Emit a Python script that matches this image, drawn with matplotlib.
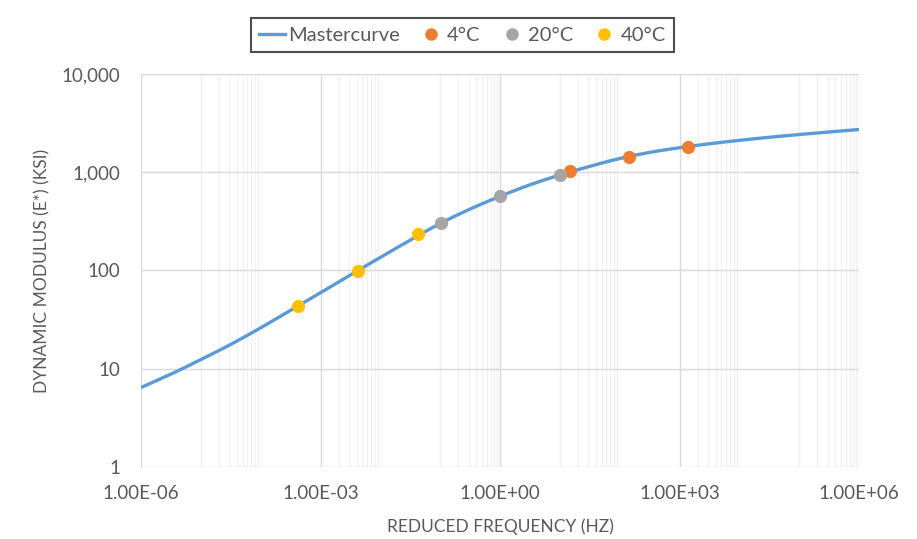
import numpy as np
import matplotlib.pyplot as plt
from matplotlib.ticker import FuncFormatter, FixedLocator, NullFormatter
from matplotlib.lines import Line2D

# mastercurve (reduced frequency in Hz, |E*| in ksi)
curve_freq = [1e-6, 10**-5.5, 1e-5, 10**-4.5, 1e-4, 10**-3.5, 1e-3, 10**-2.5, 1e-2,
              10**-1.5, 1e-1, 10**-0.5, 1, 10**0.5, 10, 10**1.5, 100, 10**2.5,
              1e3, 10**3.5, 1e4, 10**4.5, 1e5, 10**5.5, 1e6]
curve_mod = [6.44, 8.81, 12.4, 17.7, 26.1, 39.4, 59.4, 90.2, 136,
             204, 301, 422, 569, 745, 938, 1148, 1380, 1592,
             1778, 1950, 2113, 2270, 2421, 2570, 2723]

# measured points by temperature
freq_4c = [14.5, 142, 1410]
mod_4c = [1030, 1439, 1807]
freq_20c = [0.102, 1.0, 10.0]
mod_20c = [303, 569, 937]
freq_40c = [4.2e-4, 4.25e-3, 4.27e-2]
mod_40c = [43.6, 98.9, 233]

x_major = [1e-6, 1e-3, 1, 1e3, 1e6]
y_major = [1, 10, 100, 1000, 10000]

text_col = "#595959"
plt.rcParams['font.family'] = ['Lato', 'DejaVu Sans']


def smooth_path(xs, ys, steps=12):
    """Catmull-Rom through the points in log-log space (like a smoothed Excel line)."""
    lx = np.log10(xs)
    ly = np.log10(ys)
    px = np.concatenate([[2 * lx[0] - lx[1]], lx, [2 * lx[-1] - lx[-2]]])
    py = np.concatenate([[2 * ly[0] - ly[1]], ly, [2 * ly[-1] - ly[-2]]])
    out_x, out_y = [], []
    t = np.linspace(0, 1, steps, endpoint=False)
    for i in range(1, len(px) - 2):
        for p, out in ((px, out_x), (py, out_y)):
            p0, p1, p2, p3 = p[i - 1], p[i], p[i + 1], p[i + 2]
            out.extend(0.5 * ((2 * p1) + (-p0 + p2) * t
                              + (2 * p0 - 5 * p1 + 4 * p2 - p3) * t ** 2
                              + (-p0 + 3 * p1 - 3 * p2 + p3) * t ** 3))
    out_x.append(lx[-1])
    out_y.append(ly[-1])
    return 10 ** np.array(out_x), 10 ** np.array(out_y)


fig = plt.figure(figsize=(9.17, 5.39), dpi=100)
ax = fig.add_axes([0.1538, 0.1336, 0.783, 0.7291])

sx, sy = smooth_path(curve_freq, curve_mod)
ax.plot(sx, sy, color="#5B9BD5", lw=2.4, zorder=3, solid_capstyle="butt")
ms = 9.5
ax.plot(freq_4c, mod_4c, "o", color="#ED7D31", ms=ms, mec="none", zorder=4)
ax.plot(freq_20c, mod_20c, "o", color="#A5A5A5", ms=ms, mec="none", zorder=4)
ax.plot(freq_40c, mod_40c, "o", color="#FFC000", ms=ms, mec="none", zorder=4)

ax.set_xscale("log")
ax.set_yscale("log")
ax.set_xlim(1e-6, 1e6)
ax.set_ylim(1, 10000)

# minor gridlines as they show in the picture (odd decades only)
minor = []
for n in [-5, -3, -1, 1, 3, 5]:
    for k in range(1, 10):
        v = k * 10.0 ** n
        if v not in x_major:
            minor.append(v)
ax.xaxis.set_major_locator(FixedLocator(x_major))
ax.xaxis.set_minor_locator(FixedLocator(minor))
ax.xaxis.set_minor_formatter(NullFormatter())
ax.yaxis.set_major_locator(FixedLocator(y_major))
ax.yaxis.set_minor_locator(FixedLocator([]))
ax.yaxis.set_minor_formatter(NullFormatter())

ax.xaxis.set_major_formatter(FuncFormatter(lambda v, p: f"{v:.2E}"))
ax.yaxis.set_major_formatter(FuncFormatter(lambda v, p: f"{v:,.0f}"))

ax.grid(which="major", color="#D9D9D9", lw=1.0, zorder=0)
ax.grid(which="minor", axis="x", color="#F0F0F0", lw=1.0, zorder=0)
for s in ax.spines.values():
    s.set_visible(False)
ax.tick_params(which="both", length=0, labelsize=13.5, colors=text_col)
ax.tick_params(axis="x", pad=13)
ax.tick_params(axis="y", pad=15)

ax.set_xlabel("REDUCED FREQUENCY (HZ)", fontsize=12.5, color=text_col, labelpad=12)
ax.set_ylabel("DYNAMIC MODULUS (E*) (KSI)", fontsize=12.5, color=text_col, labelpad=8)

handles = [
    Line2D([], [], color="#5B9BD5", lw=2.4),
    Line2D([], [], ls="none", marker="o", color="#ED7D31", ms=9, mec="none"),
    Line2D([], [], ls="none", marker="o", color="#A5A5A5", ms=9, mec="none"),
    Line2D([], [], ls="none", marker="o", color="#FFC000", ms=9, mec="none"),
]
labels = ["Mastercurve", "4°C", "20°C", "40°C"]
leg = fig.legend(handles, labels, loc="center", bbox_to_anchor=(0.504, 0.935),
                 ncol=4, frameon=True, fancybox=False, fontsize=14.5,
                 handlelength=1.3, handletextpad=0.15, columnspacing=0.9,
                 borderpad=0.4)
leg.get_frame().set_edgecolor("#222222")
leg.get_frame().set_linewidth(1.5)
for t in leg.get_texts():
    t.set_color(text_col)

fig.savefig("out.png", dpi=100)
